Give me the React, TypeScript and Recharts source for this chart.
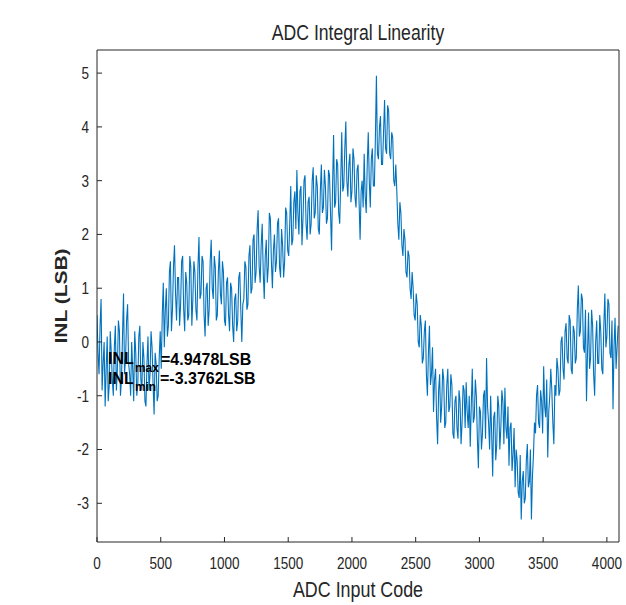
import { LineChart, Line, XAxis, YAxis } from "recharts";

// INL, one value every CODE_STEP codes
const CODE_STEP = 8;
const INL_LSB = [
  // 0 - 248
  0.5, -0.2, -0.6, 0.3, 0.8, -0.9, -0.4, 0.0, -1.2, -0.5, 0.1, -1.1, -0.8, 0.2, -0.2, -0.7,
  -1.0, -0.1, 0.3, -0.9, -0.5, 0.4, 0.2, -1.0, -0.7, 0.1, 0.9, -0.6, -0.3, 0.4, 0.7, -0.4,
  // 256 - 504
  -0.6, -1.0, 0.0, -0.5, -1.1, 0.2, -0.2, -1.0, -0.8, 0.1, 0.3, -0.7, -0.9, 0.0, -0.3, -1.1,
  -1.2, -0.4, 0.1, -0.9, -0.6, 0.2, -0.1, -0.8, -1.35, -0.2, -0.4, -1.1, -1.0, -0.3, 0.2, -0.5,
  // 512 - 760
  0.5, 1.1, -0.1, 0.6, 1.0, 0.1, 0.3, 1.3, 1.5, 0.2, 0.6, 1.4, 1.8, 0.9, 0.4, 1.2,
  1.2, 0.3, 0.7, 1.5, 1.6, 0.6, 0.2, 1.3, 1.1, 0.4, 0.5, 1.6, 1.4, 0.3, 0.8, 1.5,
  // 768 - 1016
  1.3, 0.6, 0.4, 1.4, 1.95, 0.8, 0.9, 1.6, 1.5, 0.5, 0.1, 1.0, 1.1, 0.3, 0.6, 1.5,
  1.9, 1.0, 0.8, 1.6, 1.4, 0.4, 0.5, 1.3, 1.7, 0.9, 0.7, 1.5, 1.3, 0.4, 0.3, 1.1,
  // 1024 - 1272
  1.2, 0.5, 0.2, 1.1, 1.0, 0.3, 0.0, 0.8, 0.9, 0.2, 0.4, 1.2, 1.3, 0.6, 0.0, 0.7,
  0.8, 1.5, 1.4, 0.6, 0.7, 1.6, 1.8, 0.9, 1.0, 1.9, 2.0, 1.1, 1.3, 2.1, 2.45, 1.4,
  // 1280 - 1528
  1.1, 1.8, 2.2, 1.3, 0.8, 1.6, 1.9, 1.1, 1.4, 2.4, 2.3, 1.5, 1.0, 1.7, 2.0, 1.3,
  1.5, 2.2, 2.3, 1.4, 1.2, 2.1, 1.8, 1.2, 1.5, 2.5, 2.4, 1.7, 1.6, 2.2, 2.9, 1.8,
  // 1536 - 1784
  1.9, 2.6, 2.8, 2.1, 3.2, 2.4, 2.0, 2.8, 2.9, 1.8, 2.3, 3.0, 3.1, 2.2, 1.9, 2.6,
  2.7, 2.0, 2.2, 3.0, 3.25, 2.3, 2.4, 3.1, 2.9, 2.1, 2.0, 2.8, 3.3, 2.4, 2.5, 3.2,
  // 1792 - 2040
  2.9, 2.2, 2.3, 3.2, 3.1, 2.4, 1.7, 2.9, 3.85, 2.5, 2.6, 3.4, 3.3, 2.4, 2.2, 3.0,
  3.9, 2.8, 2.9, 3.6, 4.1, 3.0, 2.7, 3.3, 3.5, 2.6, 2.8, 3.6, 3.4, 2.7, 2.5, 3.2,
  // 2048 - 2296
  3.3, 2.6, 1.9, 2.8, 3.0, 2.5, 3.5, 2.7, 2.4, 3.3, 3.9, 3.0, 2.5, 3.4, 3.6, 2.9,
  2.9, 3.8, 4.95, 3.5, 3.4, 4.0, 4.2, 3.3, 3.3, 3.9, 4.5, 3.6, 3.5, 4.4, 4.3, 3.5,
  // 2304 - 2552
  3.4, 3.9, 3.8, 3.0, 2.9, 3.3, 2.8, 2.2, 1.9, 2.6, 2.4, 1.8, 1.6, 2.1, 1.9, 1.3,
  1.2, 1.7, 1.6, 1.0, 0.8, 1.3, 1.0, 0.5, 0.4, 0.9, 0.7, 0.0, -0.1, 0.5, 0.3, -0.4,
  // 2560 - 2808
  -0.3, 0.2, 0.4, -0.6, -1.0, -0.2, 0.3, -0.8, -0.6, -0.1, -1.3, -0.7, -0.5, -1.4, -1.9, -0.9,
  -0.6, -1.5, -1.2, -0.5, -0.7, -1.6, -1.5, -0.8, -0.5, -1.3, -1.2, -0.6, -0.8, -1.7, -1.8, -1.1,
  // 2816 - 3064
  -1.0, -1.6, -1.8, -0.9, -1.1, -1.9, -1.5, -0.8, -0.9, -1.6, -0.75, -1.3, -1.6, -1.0, -1.95, -1.2,
  -0.5, -1.5, -1.4, -0.7, -1.0, -1.8, -2.35, -1.2, -1.3, -2.0, -1.7, -1.0, -0.9, -1.8, -0.3, -1.2,
  // 3072 - 3320
  -1.5, -2.0, -1.0, -1.7, -2.5, -1.4, -1.3, -2.2, -1.9, -1.0, -1.2, -2.0, -1.6, -0.9, -1.1, -1.9,
  -0.85, -1.6, -1.8, -1.2, -2.3, -1.6, -1.5, -2.4, -2.1, -1.6, -2.7, -2.0, -2.2, -2.8, -2.9, -2.1,
  // 3328 - 3576
  -3.3, -2.6, -2.4, -3.0, -2.9, -2.2, -1.9, -2.7, -2.6, -2.0, -3.3, -2.5, -2.1, -1.5, -1.7, -1.0,
  -0.8, -1.5, -1.6, -0.9, -1.1, -1.7, -0.45, -1.2, -1.4, -0.7, -2.15, -1.3, -1.0, -0.5, -0.9, -1.5,
  // 3584 - 3832
  -1.9, -0.8, -1.0, -0.3, -0.5, -1.0, -0.9, 0.0, 0.1, -0.5, -0.7, 0.2, 0.35, -0.3, -0.4, 0.5,
  0.4, -0.5, -0.6, 0.3, 0.2, -0.4, -0.3, 0.6, 1.05, 0.1, 0.2, 0.9, 0.8, -0.1, -0.2, 0.6,
  // 3840 - 4088
  -1.1, -0.2, 0.55, -0.5, -0.3, 0.6, 0.3, -0.6, -1.0, 0.0, 0.4, -0.4, -0.4, 0.5, 0.2, -0.5,
  -0.6, 0.3, 0.9, -0.1, 0.1, 0.8, 0.7, -0.2, -0.3, 0.4, -1.25, -0.1, 0.45, -0.5, -0.1, 0.3,
];

const X_TICKS = [0, 500, 1000, 1500, 2000, 2500, 3000, 3500, 4000];
const Y_TICKS = [-3, -2, -1, 0, 1, 2, 3, 4, 5];
const X_DOMAIN = [0, 4095];
const Y_DOMAIN = [-3.72, 5.43];

const TITLE = "ADC Integral Linearity";
const X_LABEL = "ADC Input Code";
const Y_LABEL = "INL (LSB)";
const INL_MAX_TEXT = "=4.9478LSB";
const INL_MIN_TEXT = "=-3.3762LSB";

const data = INL_LSB.map((inl, i) => ({ code: i * CODE_STEP, inl }));

const AXIS = "#262626";
const FONT = "'Liberation Sans', Arial, sans-serif";
// the reference text is a bit narrow, so squeeze it horizontally
const SQUEEZE = 0.82;

function XTick({ x, y, payload }: any) {
  return (
    <g transform={`translate(${x},${y}) scale(${SQUEEZE},1)`}>
      <text textAnchor="middle" dy="0.71em" fill={AXIS} fontSize={16.5} fontFamily={FONT}>
        {payload.value}
      </text>
    </g>
  );
}

function YTick({ x, y, payload }: any) {
  return (
    <g transform={`translate(${x},${y}) scale(${SQUEEZE},1)`}>
      <text textAnchor="end" dy="0.36em" fill={AXIS} fontSize={16.5} fontFamily={FONT}>
        {payload.value}
      </text>
    </g>
  );
}

export default function App() {
  return (
    <div style={{ position: "fixed", left: 0, top: 0, width: 626, height: 605, background: "#fff" }}>
      <LineChart
        width={626}
        height={605}
        data={data}
        margin={{ top: 49, right: 6, bottom: 0, left: 23 }}
      >
        <XAxis
          xAxisId="b"
          dataKey="code"
          type="number"
          domain={X_DOMAIN}
          ticks={X_TICKS}
          allowDataOverflow
          height={63}
          tickSize={-5}
          tickMargin={20}
          stroke={AXIS}
          tick={<XTick />}
        />
        <XAxis
          xAxisId="t"
          dataKey="code"
          orientation="top"
          type="number"
          domain={X_DOMAIN}
          ticks={X_TICKS}
          allowDataOverflow
          height={1}
          tickSize={-5}
          stroke={AXIS}
          tick={false}
        />
        <YAxis
          yAxisId="l"
          type="number"
          domain={Y_DOMAIN}
          ticks={Y_TICKS}
          allowDataOverflow
          width={74}
          tickSize={-5}
          tickMargin={13}
          stroke={AXIS}
          tick={<YTick />}
        />
        <YAxis
          yAxisId="r"
          orientation="right"
          type="number"
          domain={Y_DOMAIN}
          ticks={Y_TICKS}
          allowDataOverflow
          width={1}
          tickSize={-5}
          stroke={AXIS}
          tick={false}
        />
        <Line
          xAxisId="b"
          yAxisId="l"
          type="linear"
          dataKey="inl"
          stroke="#0072BD"
          strokeWidth={1.1}
          dot={false}
          isAnimationActive={false}
        />
      </LineChart>

      {/* title, axis titles and the INL max / min note */}
      <svg
        width={626}
        height={605}
        style={{ position: "absolute", left: 0, top: 0, pointerEvents: "none" }}
        fontFamily={FONT}
      >
        <g transform={`translate(358,40) scale(${SQUEEZE},1)`}>
          <text textAnchor="middle" fontSize={21.5} fill={AXIS}>{TITLE}</text>
        </g>
        <g transform={`translate(358,597) scale(${SQUEEZE},1)`}>
          <text textAnchor="middle" fontSize={21.8} fill={AXIS}>{X_LABEL}</text>
        </g>
        <g transform={`translate(61,296) scale(${SQUEEZE},1) rotate(-90)`}>
          <text textAnchor="middle" dy="0.36em" fontSize={21} fontWeight="bold" fill={AXIS}>
            {Y_LABEL}
          </text>
        </g>

        <g fontWeight="bold" fill="#000">
          <text transform="translate(108,364) scale(0.97,1)" fontSize={16.5}>INL</text>
          <text transform="translate(135,372) scale(0.95,1)" fontSize={12.5}>max</text>
          <text transform="translate(161,365) scale(0.97,1)" fontSize={16.5}>{INL_MAX_TEXT}</text>
          <text transform="translate(108,384) scale(0.97,1)" fontSize={16.5}>INL</text>
          <text transform="translate(135,391) scale(0.95,1)" fontSize={12.5}>min</text>
          <text transform="translate(160,384) scale(0.97,1)" fontSize={16.5}>{INL_MIN_TEXT}</text>
        </g>
      </svg>
    </div>
  );
}
